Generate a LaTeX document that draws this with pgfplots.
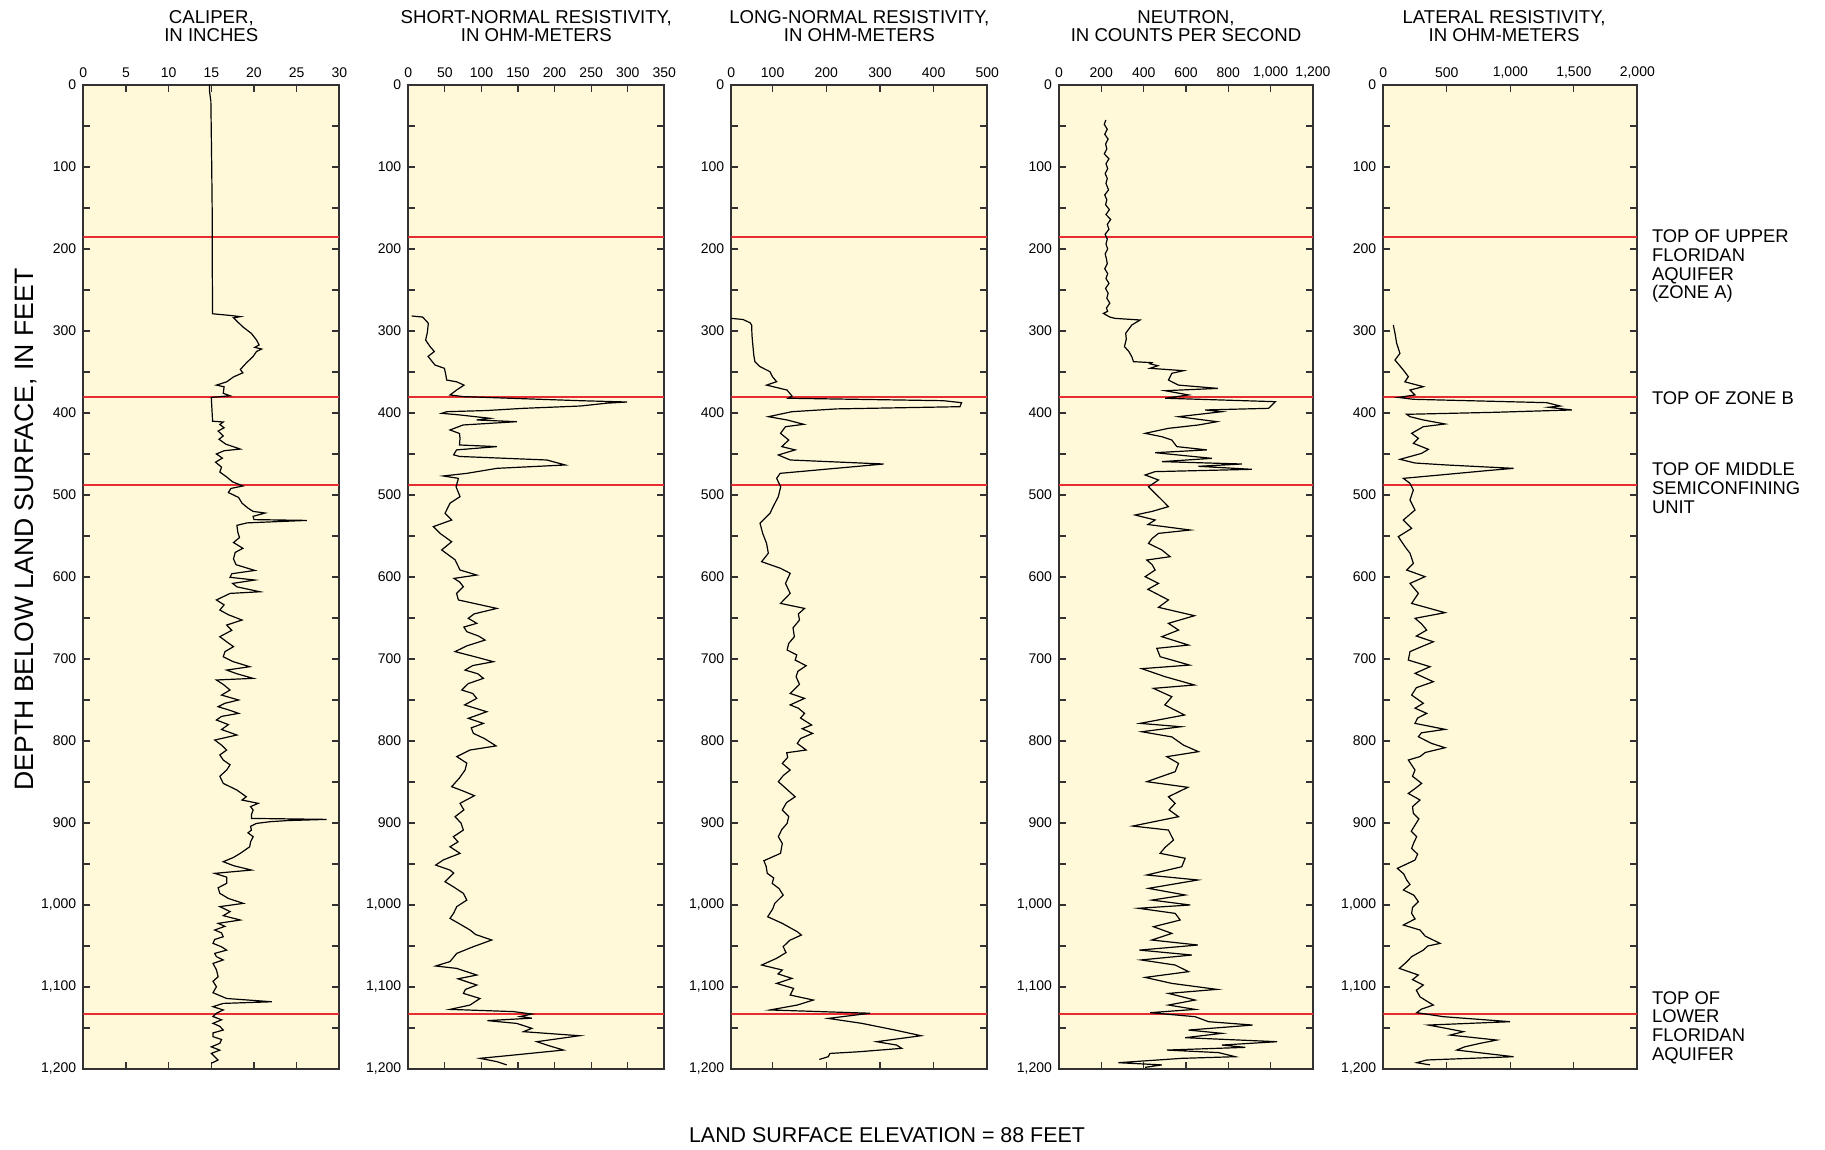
\documentclass[border=0pt]{standalone}
\usepackage{fontspec}
\setmainfont{Liberation Sans}
\usepackage{pgfplots}
\pgfplotsset{compat=1.18}
\definecolor{bgcol}{RGB}{255,249,218}
\definecolor{axcol}{RGB}{50,50,50}
\definecolor{redline}{RGB}{232,45,50}
\pgfplotsset{logaxis/.style={
  scale only axis, height=492pt, anchor=north west,
  axis background/.style={fill=bgcol},
  y dir=reverse, ymin=0, ymax=1200, ytick distance=100, minor y tick num=1,
  enlargelimits=false, xticklabel pos=upper,
  tick align=inside, major tick length=3.5pt, minor tick length=3.5pt,
  tick style={line width=0.6pt, color=axcol},
  axis line style={line width=0.9pt, color=axcol},
  tick label style={font=\fontsize{7}{8}\selectfont, color=black},
  /pgf/number format/assume math mode=true,
  /pgf/number format/1000 sep={,},
  scaled ticks=false,
},
curve/.style={black, line width=0.6pt, no marks},
rl/.style={redline, line width=1pt, no marks}}
\begin{document}
\begin{tikzpicture}
\useasboundingbox (0,0) rectangle (912.5pt,575pt);
% ---------------- CALIPER
\begin{axis}[logaxis, at={(41.65pt,532.5pt)}, width=128pt, xmin=0, xmax=30, xtick={0,5,...,30}]
\addplot[rl] coordinates {(0,185) (30,185)};
\addplot[rl] coordinates {(0,380) (30,380)};
\addplot[rl] coordinates {(0,488) (30,488)};
\addplot[rl] coordinates {(0,1133) (30,1133)};
\addplot[curve] table[x index=1, y index=0] {
0 14.8
8 14.8
20 14.95
60 15.0
100 15.05
150 15.1
200 15.1
279 15.15
281 17.2
282.5 18.4
284 17.6
290 18.2
295 18.7
303 19.7
311 20.3
317 20.6
320 20.1
322 20.9
325 20.3
331 19.9
339 19.1
347 18.4
351 18.7
356 17.6
362 16.8
366 15.6
368 16.5
376 16.4
379 17.2
381 15.0
410 15.15
411 16.4
414 16.0
418 16.5
422 15.8
428 16.4
432 15.9
438 16.7
444 18.4
446 16.5
450 15.6
455 16.3
460 15.5
466 16.2
472 16.0
478 16.8
484 17.5
489 18.7
492 17.3
497 17.0
503 18.2
510 18.6
516 19.3
520 19.9
522 21.3
526 19.9
530 20.0
531 26.2
532 23.8
534 19.2
537 18.0
545 18.1
552 18.3
558 17.6
565 18.7
570 17.8
578 17.6
585 17.9
592 20.1
596 17.4
600.4 17.2
603.7 20.1
607.8 17.5
612 18.0
618 20.7
620 17.2
628 15.6
634 16.5
640.3 16.0
646 17.0
652.5 18.6
658.6 16.8
665 17.4
672.8 16.0
679 16.8
685 17.6
691 16.6
697.2 16.4
703 17.5
709.4 19.5
713.5 16.8
718 18.0
723.6 19.9
725.6 15.6
731 16.4
737.8 17.2
744 16.2
750 18.2
754 16.6
758.2 15.8
762 17.0
766.3 18.2
770 16.2
774.4 15.6
780 17.0
786 16.2
792.7 18.0
798.8 15.4
805 16.2
811 16.8
817 16.0
823.2 16.4
829 17.2
835.4 16.8
843 16.0
851.7 16.4
859.8 18.0
868 19.1
872 18.6
876 20.5
880 19.6
884.2 19.9
890 19.7
894.4 19.7
895.6 28.5
897 24
898.4 21.9
900.5 20.3
904 19.6
908.6 19.7
912 19.3
916.7 19.9
923 19.6
929 19.5
937 18.4
942 17.6
947.2 16.4
952 17.6
957.4 19.7
961.4 15.4
966 16.8
973.6 16.8
979 15.8
985.8 16.0
992 17.0
998 18.75
1002 16.0
1008 17.2
1013 16.4
1018.3 18.4
1022.4 15.8
1026 16.6
1030.5 15.4
1034 16.2
1038.7 16.4
1042 15.4
1046.8 15.2
1051 16.2
1055 16.8
1059 15.4
1063 15.6
1067 16.4
1071.2 15.2
1079 15.6
1087.5 15.8
1093 15.2
1099.6 15.6
1107 15.2
1114 16.8
1118 22.1
1120 16.4
1124 15.2
1128 16.4
1132 15.6
1136 15.2
1140 16.2
1144.3 15.2
1148 16.0
1152.5 16.4
1156 15.2
1160.6 15.2
1164 16.2
1168.7 16.0
1173 15.0
1177 16.0
1181 15.0
1185 15.4
1189 15.8
1193 15.0
};
\end{axis}
% ---------------- SHORT NORMAL
\begin{axis}[logaxis, at={(204.15pt,532.5pt)}, width=128pt, xmin=0, xmax=350, xtick={0,50,...,350}]
\addplot[rl] coordinates {(0,185) (350,185)};
\addplot[rl] coordinates {(0,380) (350,380)};
\addplot[rl] coordinates {(0,488) (350,488)};
\addplot[rl] coordinates {(0,1133) (350,1133)};
\addplot[curve] table[x index=1, y index=0] {
281.7 4.6
283 19.6
290.6 27.4
302 26.0
311 23.7
319 29.7
325 35.6
331 27.0
341.5 36.5
345.5 49.3
352 51
359.8 52.5
362 66.2
366 76.2
372 66
378 57
380 75
382 139
385 235
386.6 299
388 271.6
391.5 235
394.3 157.5
397 107
398.4 52.5
400.4 45.6
402.4 70.7
406.5 111.8
408.5 93.6
410.6 148.3
414.6 75
420.7 57
425 70
430.9 70.7
439 70
441 121
445 66
451 62
453 70
457.3 189.4
463.4 214.5
467.5 121
473.6 80
476.8 47.9
479.7 68.5
490 65.3
502 70.7
510 57
522.4 50.2
530.5 59.3
538.6 34.2
546.8 43.4
557 59.3
567 45.6
579 63.9
591.5 70.7
597.6 93.6
601.7 62.5
606 70
611.8 75.3
620 66
628 68.5
638.3 121
645 90
650.4 82
656.5 93.6
661 76
666.7 80
672 96
676.9 105
684 80
691 63.9
697 90
703.3 116.4
708 88
713.5 77.6
718 95
723.6 102.7
730 82
737.8 73
742 88
748 93.6
756 77
764.3 107.3
772.4 82
778.5 102.7
784 86
790.7 89
797 104
806 120
811 84.4
819 66.2
827 80
835.4 77.6
845 70
855.7 59.3
861 75
866.7 90.4
876 70.7
884 76
892.3 63.9
900 72
908.6 75.3
916.7 61.6
923 68
929 57
937 70.7
945 47.9
951.3 37.4
957.4 57
961 62
971.6 50.2
978 62
985.8 75.3
994 80
1002 66.2
1010 62
1016.3 57
1024 72
1030.5 84.4
1036 92
1042.7 114
1050.8 89
1059 66.2
1069 57
1074.4 37.4
1077.3 66.2
1085.4 93.6
1090 68
1097.6 93.6
1103 78
1107.8 75.3
1114 98
1122 84.4
1127.3 57
1130 143.8
1133 168.9
1136 152.9
1138 168.9
1141 108.2
1144.4 148.3
1150.4 168.9
1154.5 157.5
1159.4 234.1
1166.7 175.7
1170.8 189.4
1176.9 212.2
1183 143.8
1187 98
1191 121
1195 134.6
};
\end{axis}
% ---------------- LONG NORMAL
\begin{axis}[logaxis, at={(365.65pt,532.5pt)}, width=128pt, xmin=23, xmax=500, xtick={23,100,200,300,400,500}, xticklabels={0,100,200,300,400,500}]
\addplot[rl] coordinates {(23,185) (500,185)};
\addplot[rl] coordinates {(23,380) (500,380)};
\addplot[rl] coordinates {(23,488) (500,488)};
\addplot[rl] coordinates {(23,1133) (500,1133)};
\addplot[curve] table[x index=1, y index=0] {
284.6 23
286 45
290 58
292.7 60.9
305 61.5
315 62.8
330 65
337.4 67
343.5 76.5
349.6 95
356 100
361.8 107.5
366 88.7
372 126.9
379.3 136
382 129.2
385 418
387.4 452
392.3 449
395 219
398.4 136
404.5 92.2
408.5 126.9
413.8 158
416.7 124
424.8 114.7
433 130
441 117
445 142
451.2 110.6
457.3 132.7
462.2 306.8
473.6 114
479.7 107.5
490 115
502 110.6
514.2 101
522.4 95
534.5 76.5
546.8 81.5
559 88.7
571 92
581.3 79.5
589.4 114.7
595.5 132.7
607.8 124
620 132.7
632.2 114.7
638.3 159.5
645 148
652.5 150
662 138
672.8 140.5
681 130
689 127
695 145
701.3 142
708.2 162.5
715 147
721.6 143.8
731 150
742 132.7
748 159.5
756 132.7
760 148
766.3 159.5
772 152
780.5 172.7
785 155
790.7 174.5
797 152
803 146
811 162.5
814.3 126.3
820 128
827.3 118
835.4 132.7
842 120
849.6 110.6
858 125
868 142
875 126
884.2 118
892 130
900.5 127
908 117
916.7 110.6
925 118
937 114.7
946 83.7
953 88
961.4 90
967 102
973.6 99.2
980 112
987.8 119.6
998 104
1005 100
1014.3 90.8
1022.4 118
1032.6 146
1036.6 153.6
1043 132
1050.8 119.6
1058 125
1065 107.5
1073.2 79.5
1079.3 118
1084 110
1089.5 136
1095.6 107.5
1101.7 139
1109.8 132.7
1115.9 175.8
1122 146
1128 95
1132 281.4
1138.3 203.7
1144.3 266
1152.5 328
1159.4 376.6
1166.7 293.8
1170.8 331
1174.8 340.5
1179 260
1181 206.8
1185 203.7
1188.3 187
};
\end{axis}
% ---------------- NEUTRON
\begin{axis}[logaxis, at={(529.5pt,532.5pt)}, width=127pt, xmin=0, xmax=1200, xtick={0,200,...,1200}]
\addplot[rl] coordinates {(0,185) (1200,185)};
\addplot[rl] coordinates {(0,380) (1200,380)};
\addplot[rl] coordinates {(0,488) (1200,488)};
\addplot[rl] coordinates {(0,1133) (1200,1133)};
\addplot[curve] table[x index=1, y index=0] {
42.7 221
48 214
54 228
60 216
66 232
72 220
78 226
84 214
90 236
96 222
102 230
108 218
114 228
120 222
128 234
134 216
140 226
146 220
152 238
158 222
164 244
170 228
176 236
182 218
188 228
194 222
200 230
206 218
212 224
218 228
224 216
230 230
236 222
242 236
248 220
254 232
260 226
266 240
272 224
276 230
278.5 209.7
283 240
284.6 265
286.6 383
292.7 343.8
302.8 315
310 318
319 309
325 330
331.3 343.8
337.4 351.7
338.6 438.4
340 430
342.3 466.8
345.5 430.5
348.4 588
351.6 533
359.8 517
366 564.6
370 750.7
372.8 501.5
378 612
382 501.5
386.2 1022
394.3 990
396.3 690.7
398.4 769.6
404.5 564.6
410.6 746
414.6 659
418.7 517
424.8 406.9
428.9 485.7
433 533
441 556.7
445 698.6
448.4 454
455.3 722.3
459.3 485.7
462.2 864
465 659
468.7 911.5
471.5 454
475.6 407
481.7 470
490 422.6
498 454
506 485.7
514.2 517
520 440
524.4 359.6
530.5 454
536 420
542.7 619.8
546.8 470
553 440
559 422.6
567 485.7
575.2 525
579.3 414.8
585 440
591.5 454
599.6 407
607.8 470
615 420
628 517
637 470
647.2 640
656.5 517
664.7 564.6
672.8 485.7
683 612
687 462
697.2 477.8
707.4 616.6
711.8 391
721.6 501.5
731.7 640
735.8 446
746 533
756 500
768.3 593
778.5 383
782.6 575.6
788.7 391
795 533
805 588
813 659
819.1 509.4
827.3 564.6
837.4 548.8
849.6 414.8
856.5 608.7
868 517
876 548.8
884 520
892.3 564.6
903.7 348.5
908.6 517
920.8 540.9
930 500
937 477.8
943 596
953.3 580
963.4 414.8
969.5 656
979.7 422.6
987.8 596
994 438.4
1000 619.8
1004 375.3
1010.2 548.8
1018.3 572.5
1026.5 446.3
1034.6 533
1042.7 438.4
1048.8 656
1055 380
1061 627.6
1067 388
1073.2 548.8
1081.3 612
1088.3 407
1095.6 533
1102.9 746
1107.8 517
1115.9 643
1122 517
1127.3 643
1131.3 430.5
1136.2 643
1142.3 706.5
1146.4 914.7
1152.5 612
1156.5 769.6
1161.8 596
1166.7 1030
1170.8 769.6
1173.6 880
1176.9 509.4
1180 753.8
1185 832.6
1187 580
1192.3 280.7
1195 485.7
1198 407
};
\end{axis}
% ---------------- LATERAL
\begin{axis}[logaxis, at={(691.65pt,532.5pt)}, width=127pt, xmin=0, xmax=2000, xtick={0,500,...,2000}]
\addplot[rl] coordinates {(0,185) (2000,185)};
\addplot[rl] coordinates {(0,380) (2000,380)};
\addplot[rl] coordinates {(0,488) (2000,488)};
\addplot[rl] coordinates {(0,1133) (2000,1133)};
\addplot[curve] table[x index=1, y index=0] {
292.7 78.8
302.8 92
315 105
327.2 131
335.4 92
347.6 157.7
355.7 197
362 170
367.9 315
372 210
378 249.7
381 118
383.3 236.5
387.4 1287.7
391.5 1393
393 1301
396.3 1484.8
399.2 867
401.6 184
404.5 210
408.5 315
413.4 486
416.7 315
424.8 223
430.9 276
437 236.5
444.3 354.8
449.2 302
456.5 131.4
461 250
463.4 499
467.5 1025
470.3 814.7
475.6 446.8
479.7 157.7
485.8 210
494 236.5
506 210
518.3 249.7
530.5 157.7
540.7 223
550.8 118
563 170.8
571 210
583.3 236.5
591.5 184
599.6 328.5
607.8 210
620 276
632.2 223
643.5 486
650.4 249.7
657 300
664.7 341.6
672 260
679 394
685 300
691 210
701.3 197
709.4 368
717.5 249.7
727.7 394
735 260
744 223
754 315
760 250
766.3 341.6
772 270
778.5 249.7
785.8 486
790 300
794.8 276
803 381
808.2 486
814 330
819 289
823.2 197
835.4 249.7
843 230
851.7 302
858 250
863.9 197
872 289
880 230
888.2 236.5
895 280
902.5 249.7
910 220
916.7 262.8
924 240
931 223
938 270
945.2 249.7
955.3 110.4
962 160
969.5 184
975 210
981.7 157.7
988 240
996 276
1003 230
1010.2 223
1017 250
1024.4 157.7
1030.5 289
1038 330
1046.8 446.8
1050 350
1055 315
1063 223
1070 180
1077.3 126
1085.4 276
1091 230
1097.6 315
1104 260
1112 289
1117 340
1122 394
1127 300
1131.3 262.8
1136.2 473
1142.3 998.6
1146.4 354.8
1150 480
1154.5 630.7
1158.6 525.6
1164.7 893.5
1168.7 762
1173 640
1176.9 578
1185 1025
1189 341.6
1192.3 262.8
1195 368
};
\end{axis}
% ---------------- titles and labels
\begin{scope}[every node/.style={align=center, inner sep=0pt, font=\fontsize{9.3}{9}\selectfont}]
\node at (105.65pt,561.9pt) {CALIPER,\\IN INCHES};
\node at (268.15pt,561.9pt) {SHORT-NORMAL RESISTIVITY,\\IN OHM-METERS};
\node at (429.65pt,561.9pt) {LONG-NORMAL RESISTIVITY,\\IN OHM-METERS};
\node at (593pt,561.9pt) {NEUTRON,\\IN COUNTS PER SECOND};
\node at (752pt,561.9pt) {LATERAL RESISTIVITY,\\IN OHM-METERS};
\end{scope}
\begin{scope}[every node/.style={align=left, inner sep=0pt, anchor=north west, font=\fontsize{9.2}{9.3}\selectfont}]
\node at (825.8pt,460.2pt) {TOP OF UPPER\\FLORIDAN\\AQUIFER\\(ZONE A)};
\node at (825.8pt,379.2pt) {TOP OF ZONE B};
\node at (825.8pt,343.7pt) {TOP OF MIDDLE\\SEMICONFINING\\UNIT};
\node at (825.8pt,79.5pt) {TOP OF\\LOWER\\FLORIDAN\\AQUIFER};
\end{scope}
\node[rotate=90, inner sep=0pt, font=\fontsize{13.3}{13}\selectfont] at (12.8pt,310.2pt) {DEPTH BELOW LAND SURFACE, IN FEET};
\node[inner sep=0pt, font=\fontsize{10.7}{10.5}\selectfont] at (443.5pt,7.5pt) {LAND SURFACE ELEVATION = 88 FEET};
\end{tikzpicture}
\end{document}
